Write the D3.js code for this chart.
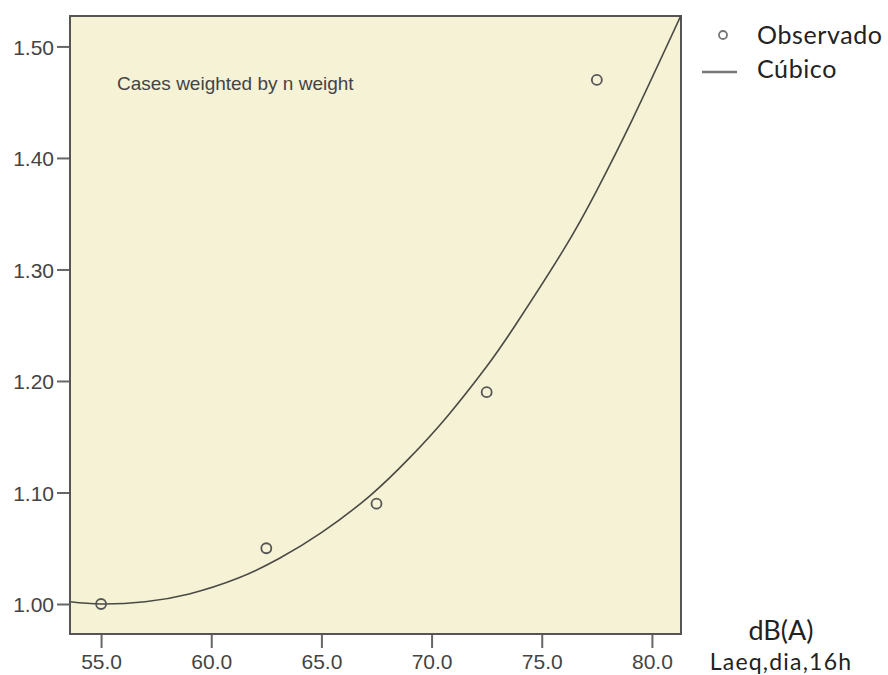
<!DOCTYPE html>
<html>
<head>
<meta charset="utf-8">
<script src="https://cdn.jsdelivr.net/npm/d3@7"></script>
<style>
  body { margin: 0; background: #fff; }
  svg { display: block; }
</style>
</head>
<body>
<div id="chart"></div>
<script>
// observed points
const obsX = [55.0, 62.5, 67.5, 72.5, 77.5];
const obsY = [1.00, 1.05, 1.09, 1.19, 1.47];

// cubic fit
const fitX = [53.6, 55.0, 57.0, 59.0, 61.2, 63.1, 65.0, 67.2, 69.0, 70.7, 72.5, 73.8, 76.0, 77.5, 79.1, 81.3];
const fitY = [1.002, 1.000, 1.002, 1.009, 1.023, 1.041, 1.064, 1.097, 1.131, 1.168, 1.213, 1.250, 1.318, 1.371, 1.434, 1.527];

const xTicks = [55, 60, 65, 70, 75, 80];
const yTicks = [1.0, 1.1, 1.2, 1.3, 1.4, 1.5];

const legendLabels = ['Observado', 'Cúbico'];

const width = 888, height = 675;
const margin = {top: 16, right: 207, bottom: 41, left: 70};

const svg = d3.select('#chart').append('svg')
  .attr('width', width).attr('height', height);

const x = d3.scaleLinear().domain([53.59, 81.32]).range([margin.left, width - margin.right]);
const y = d3.scaleLinear().domain([0.9731, 1.5273]).range([height - margin.bottom, margin.top]);

// plot background
svg.append('rect')
  .attr('x', margin.left).attr('y', margin.top)
  .attr('width', width - margin.left - margin.right)
  .attr('height', height - margin.top - margin.bottom)
  .attr('fill', '#f6f2d6');

svg.append('clipPath').attr('id', 'clip')
  .append('rect')
  .attr('x', margin.left).attr('y', margin.top)
  .attr('width', width - margin.left - margin.right)
  .attr('height', height - margin.top - margin.bottom);

// axes
const xAxis = svg.append('g')
  .attr('transform', 'translate(0,' + (height - margin.bottom) + ')')
  .call(d3.axisBottom(x).tickValues(xTicks).tickFormat(d3.format('.1f')).tickSize(14).tickSizeOuter(0));

const yAxis = svg.append('g')
  .attr('transform', 'translate(' + margin.left + ',0)')
  .call(d3.axisLeft(y).tickValues(yTicks).tickFormat(d3.format('.2f')).tickSize(13).tickSizeOuter(0));

[xAxis, yAxis].forEach(a => {
  a.select('.domain').remove();
  a.selectAll('line').attr('stroke', '#666').attr('stroke-width', 2);
  a.selectAll('text')
    .attr('fill', '#444')
    .attr('font-family', 'Liberation Sans, Arial, sans-serif')
    .attr('font-size', '21px');
});
xAxis.selectAll('text').attr('dy', '0').attr('y', 35);
yAxis.selectAll('text').attr('x', -16).attr('dy', '0.36em');

// frame
svg.append('rect')
  .attr('x', margin.left).attr('y', margin.top)
  .attr('width', width - margin.left - margin.right)
  .attr('height', height - margin.top - margin.bottom)
  .attr('fill', 'none')
  .attr('stroke', '#555')
  .attr('stroke-width', 2);

svg.append('text')
  .attr('x', 117).attr('y', 90)
  .attr('font-family', 'Liberation Sans, Arial, sans-serif')
  .attr('font-size', '19px')
  .attr('fill', '#444')
  .text('Cases weighted by n weight');

// fitted curve
const line = d3.line()
  .x((d, i) => x(fitX[i]))
  .y(d => y(d))
  .curve(d3.curveNatural);

svg.append('path')
  .datum(fitY)
  .attr('clip-path', 'url(#clip)')
  .attr('d', line)
  .attr('fill', 'none')
  .attr('stroke', '#4a4a44')
  .attr('stroke-width', 1.6);

// observed points
svg.selectAll('.obs')
  .data(obsY)
  .enter()
  .append('circle')
  .attr('class', 'obs')
  .attr('cx', (d, i) => x(obsX[i]))
  .attr('cy', d => y(d))
  .attr('r', 5)
  .attr('fill', 'none')
  .attr('stroke', '#555')
  .attr('stroke-width', 1.8);

// legend
const legend = svg.append('g');
legend.append('circle')
  .attr('cx', 723).attr('cy', 35).attr('r', 4)
  .attr('fill', 'none').attr('stroke', '#777').attr('stroke-width', 1.8);
legend.append('line')
  .attr('x1', 702).attr('x2', 737).attr('y1', 72).attr('y2', 72)
  .attr('stroke', '#777').attr('stroke-width', 2.5);
legend.selectAll('.lab')
  .data(legendLabels)
  .enter()
  .append('text')
  .attr('class', 'lab')
  .attr('x', 757)
  .attr('y', (d, i) => 44 + i * 34)
  .attr('font-family', 'Lato, sans-serif')
  .attr('font-size', '25px')
  .attr('letter-spacing', '0.6px')
  .attr('fill', '#222')
  .text(d => d);

// axis unit labels
svg.append('text')
  .attr('x', 781).attr('y', 640)
  .attr('text-anchor', 'middle')
  .attr('font-family', 'Lato, sans-serif')
  .attr('font-size', '27px')
  .attr('fill', '#222')
  .text('dB(A)');
svg.append('text')
  .attr('x', 781).attr('y', 670)
  .attr('text-anchor', 'middle')
  .attr('font-family', 'Lato, sans-serif')
  .attr('font-size', '23px')
  .attr('letter-spacing', '1.2px')
  .attr('fill', '#222')
  .text('Laeq,dia,16h');
</script>
</body>
</html>
